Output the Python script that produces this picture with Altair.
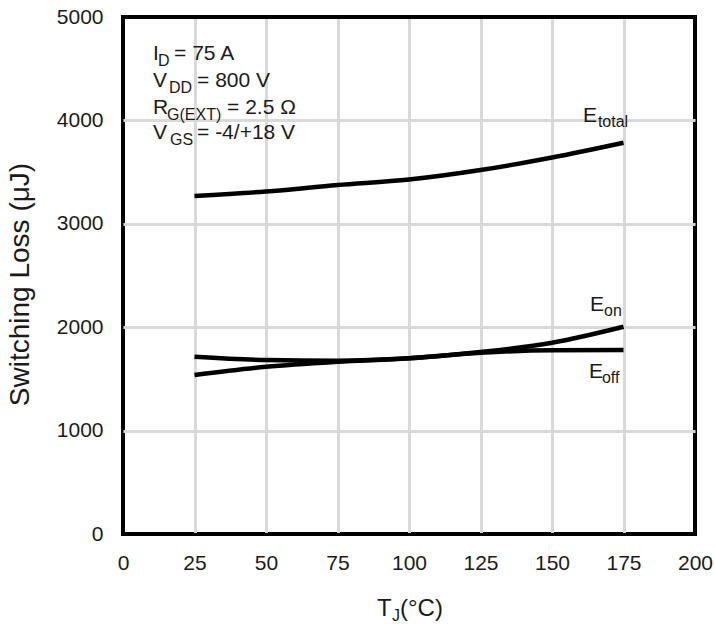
import altair as alt
import pandas as pd

# ---- data ----
temps = [25, 50, 75, 100, 125, 150, 175]
e_total = [3270, 3313, 3375, 3428, 3520, 3641, 3784]
e_on = [1538, 1618, 1666, 1699, 1760, 1850, 2005]
e_off = [1715, 1683, 1676, 1699, 1753, 1777, 1780]

x_ticks = [0, 25, 50, 75, 100, 125, 150, 175, 200]
y_ticks = [0, 1000, 2000, 3000, 4000, 5000]

cond_main = ["I", "V", "R", "V"]
cond_sub = ["D", "DD", "G(EXT)", "GS"]
cond_rest = ["= 75 A", "= 800 V", "= 2.5 Ω", "= -4/+18 V"]
cond_x = [10.5, 10.5, 10.5, 10.5]
cond_y = [4584, 4323, 4062, 3820]

curve_main = ["E", "E", "E"]
curve_sub = ["total", "on", "off"]
curve_x = [160.8, 163.3, 162.9]
curve_y = [3985, 2157, 1509]

xtitle_main = "T"
xtitle_sub = "J"
xtitle_rest = "(°C)"
xtitle_x = 100
xtitle_y = -790

FONT = "Liberation Sans"
TXT = "#1a1a1a"

series = []
for name, vals in [("Etotal", e_total), ("Eon", e_on), ("Eoff", e_off)]:
    for t, v in zip(temps, vals):
        series.append({"T": t, "E": v, "s": name})
df = pd.DataFrame(series)

xs = alt.Scale(domain=[0, 200], nice=False)
ys = alt.Scale(domain=[0, 5000], nice=False)
x_grid_color = alt.condition("datum.value == 0 || datum.value == 200",
                             alt.value("black"), alt.value("#d9d9d9"))
y_grid_color = alt.condition("datum.value == 0 || datum.value == 5000",
                             alt.value("black"), alt.value("#d9d9d9"))
xaxis = alt.Axis(values=x_ticks, grid=True, gridColor=x_grid_color, gridWidth=3,
                 domain=False, ticks=False, labelFontSize=21, labelPadding=18,
                 labelFont=FONT, labelColor=TXT, title=None, labelFlush=False,
                 format="d")
yaxis = alt.Axis(values=y_ticks, grid=True, gridColor=y_grid_color, gridWidth=3,
                 domain=False, ticks=False, labelFontSize=21, labelPadding=20,
                 labelFont=FONT, labelColor=TXT, title="Switching Loss (μJ)",
                 titleFont=FONT, titleFontSize=28, titleFontWeight="normal",
                 titleColor=TXT, titleX=-89, titleY=267, labelFlush=False,
                 format="d")


def X(f):
    return alt.X(f, type="quantitative", scale=xs, axis=xaxis)


def Y(f):
    return alt.Y(f, type="quantitative", scale=ys, axis=yaxis)


lines = alt.Chart(df).mark_line(color="black", strokeWidth=4.5, interpolate="monotone",
                                strokeCap="butt").encode(
    x=X("T"), y=Y("E"), detail="s:N")

layers = [lines]


def text_layer(xv, yv, txt, dx, dy, size):
    d = pd.DataFrame({"x": [xv], "y": [yv], "t": [txt]})
    return alt.Chart(d).mark_text(align="left", baseline="alphabetic", dx=dx, dy=dy,
                                  fontSize=size, font=FONT, color=TXT).encode(
        x=X("x"), y=Y("y"), text="t:N")


sub_dx = [5, 16, 14, 17]
rest_dx = [21, 44, 74, 44]
for i in range(4):
    layers.append(text_layer(cond_x[i], cond_y[i], cond_main[i], 0, 0, 21))
    layers.append(text_layer(cond_x[i], cond_y[i], cond_sub[i], sub_dx[i], 6, 16))
    layers.append(text_layer(cond_x[i], cond_y[i], cond_rest[i], rest_dx[i], 0, 21))

c_sub_dx = [15, 14, 13]
for i in range(3):
    layers.append(text_layer(curve_x[i], curve_y[i], curve_main[i], 0, 0, 21))
    layers.append(text_layer(curve_x[i], curve_y[i], curve_sub[i], c_sub_dx[i], 5, 16))

layers.append(text_layer(xtitle_x, xtitle_y, xtitle_main, -32, 0, 24))
layers.append(text_layer(xtitle_x, xtitle_y, xtitle_sub, -17, 5, 16))
layers.append(text_layer(xtitle_x, xtitle_y, xtitle_rest, -9, 0, 24))

chart = alt.layer(*layers).properties(
    width=572, height=517,
    padding={"left": 123, "top": 17, "right": 20, "bottom": 109},
    autosize=alt.AutoSizeParams(type="none"),
    background="white",
).configure_view(stroke="black", strokeWidth=4)

chart.save("out.html", embed_options={"renderer": "svg", "actions": False})
